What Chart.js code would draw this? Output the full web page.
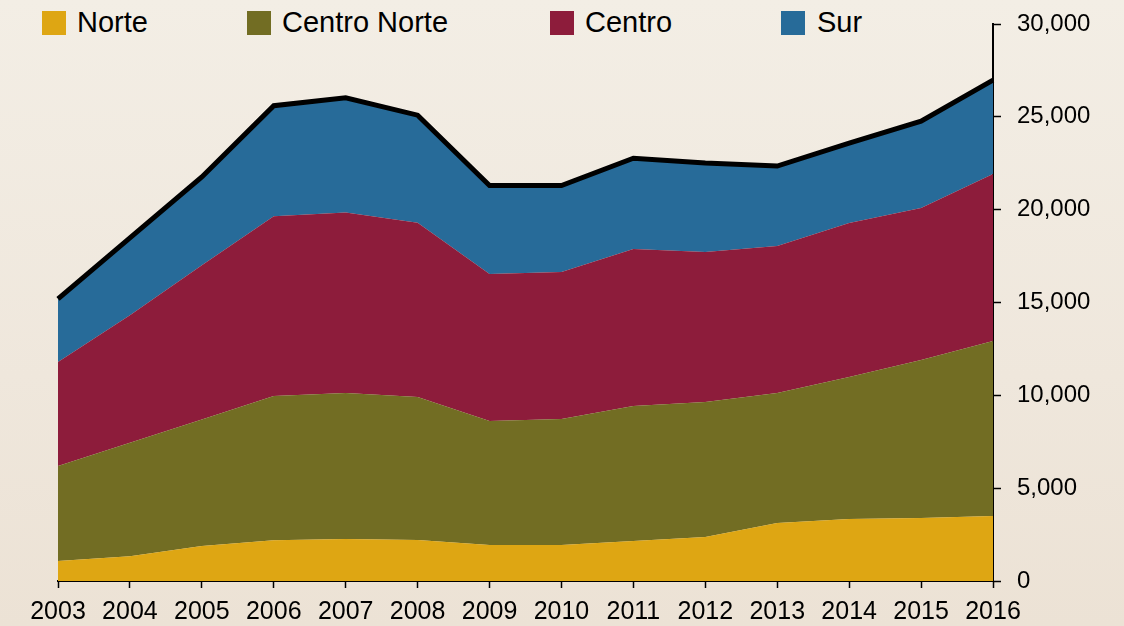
<!DOCTYPE html>
<html>
<head>
<meta charset="utf-8">
<script src="https://cdn.jsdelivr.net/npm/chart.js@4.4.1/dist/chart.umd.min.js"></script>
<style>
  html, body { margin: 0; padding: 0; }
  body {
    width: 1124px; height: 626px; overflow: hidden; position: relative;
    background: linear-gradient(to bottom, #f3eee5 0%, #efe7dc 60%, #ece2d5 100%);
    font-family: "Liberation Sans", Arial, sans-serif;
  }
  #wrap { position: absolute; left: 0; top: 0; width: 1124px; height: 626px; }
  .lg { position: absolute; top: 8px; font-size: 29px; line-height: 29px; color: #000; white-space: nowrap; }
  .sw { position: absolute; top: 11px; width: 24px; height: 24px; }
</style>
</head>
<body>
<div id="legend"></div>
<div id="wrap"><canvas id="chart" width="1124" height="626"></canvas></div>
<script>
const YEARS = ["2003","2004","2005","2006","2007","2008","2009","2010","2011","2012","2013","2014","2015","2016"];

const NORTE        = [1080, 1330, 1880, 2200, 2260, 2210, 1940, 1940, 2150, 2370, 3120, 3340, 3390, 3500];
const CENTRO_NORTE = [5110, 6120, 6820, 7760, 7860, 7700, 6680, 6780, 7270, 7270, 7000, 7650, 8510, 9420];
const CENTRO       = [5600, 6870, 8300, 9690, 9730, 9390, 7910, 7920, 8460, 8080, 7920, 8290, 8190, 9000];
const SUR          = [3410, 4160, 4760, 5950, 6180, 5790, 4770, 4660, 4890, 4790, 4310, 4310, 4680, 5060];
const TOTAL        = [15200, 18480, 21760, 25600, 26030, 25090, 21300, 21300, 22770, 22510, 22350, 23590, 24770, 26980];

const Y_TICKS = [0, 5000, 10000, 15000, 20000, 25000, 30000];

const COLORS = {
  norte: "#dea613",
  centroNorte: "#726d23",
  centro: "#8d1c3b",
  sur: "#276b99"
};

// html legend, placed like the original
const legendItems = [
  { label: "Norte", color: COLORS.norte, sw: 42, tx: 77 },
  { label: "Centro Norte", color: COLORS.centroNorte, sw: 247, tx: 282 },
  { label: "Centro", color: COLORS.centro, sw: 550, tx: 585 },
  { label: "Sur", color: COLORS.sur, sw: 781, tx: 817 }
];
const lg = document.getElementById("legend");
legendItems.forEach(it => {
  const s = document.createElement("div");
  s.className = "sw"; s.style.left = it.sw + "px"; s.style.background = it.color;
  const t = document.createElement("div");
  t.className = "lg"; t.style.left = it.tx + "px"; t.textContent = it.label;
  lg.appendChild(s); lg.appendChild(t);
});

function area(label, data, color, fill) {
  return {
    label, data, fill,
    backgroundColor: color, borderColor: color, borderWidth: 0,
    pointRadius: 0, tension: 0, stack: "regions", order: 2
  };
}

new Chart(document.getElementById("chart").getContext("2d"), {
  type: "line",
  data: {
    labels: YEARS,
    datasets: [
      area("Norte", NORTE, COLORS.norte, "origin"),
      area("Centro Norte", CENTRO_NORTE, COLORS.centroNorte, "-1"),
      area("Centro", CENTRO, COLORS.centro, "-1"),
      area("Sur", SUR, COLORS.sur, "-1"),
      { label: "Total", data: TOTAL, stack: "total", fill: false, borderColor: "#000", borderWidth: 5,
        pointRadius: 0, tension: 0, order: 1, borderJoinStyle: "miter" }
    ]
  },
  options: {
    responsive: false,
    animation: false,
    layout: { padding: { left: 58, top: 0, right: 0, bottom: 0 } },
    plugins: { legend: { display: false }, tooltip: { enabled: false } },
    scales: {
      x: {
        offset: false,
        grid: { drawOnChartArea: false, drawTicks: true, tickLength: 7, tickWidth: 1.5, color: "#000" },
        border: { display: true, color: "#000", width: 2 },
        ticks: { color: "#000", font: { family: "Liberation Sans", size: 25 }, padding: 9, maxRotation: 0, autoSkip: false },
        afterFit: (s) => { s.height = 45; }
      },
      y: {
        position: "right",
        stacked: true,
        min: 0, max: 30000,
        afterBuildTicks: (s) => { s.ticks = Y_TICKS.map(v => ({ value: v })); },
        grid: { drawOnChartArea: false, drawTicks: true, tickLength: 8, tickWidth: 1.5, color: "#000" },
        border: { display: true, color: "#000", width: 2 },
        ticks: { color: "#000", font: { family: "Liberation Sans", size: 24, lineHeight: 1.2 }, padding: 16,
                 callback: (v) => Number(v).toLocaleString("en-US") },
        afterFit: (s) => { s.width = 131; s.paddingTop = 24; }
      }
    }
  }
});
</script>
</body>
</html>
